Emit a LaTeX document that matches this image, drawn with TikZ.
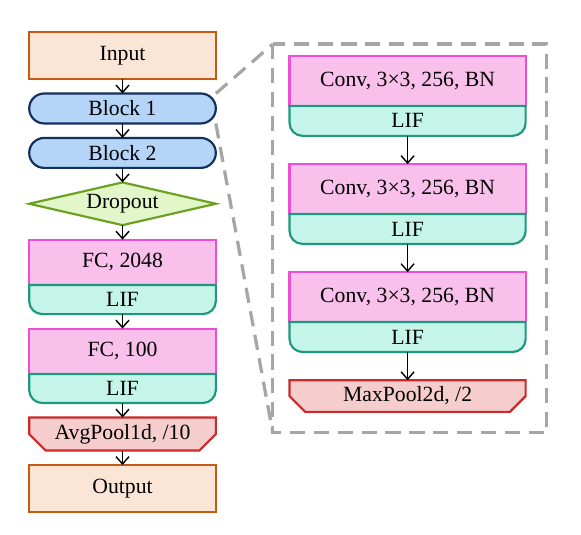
\documentclass[tikz,border=0pt]{standalone}
\usepackage{fontspec}
\setmainfont{Liberation Serif}
\usetikzlibrary{positioning,shapes.geometric,shapes.misc,arrows.meta,backgrounds}

\definecolor{ioface}{HTML}{FBE5D6}
\definecolor{ioedge}{HTML}{C55A11}
\definecolor{blkface}{HTML}{B4D5F7}
\definecolor{blkedge}{HTML}{12305E}
\definecolor{dropface}{HTML}{E2F6C9}
\definecolor{dropedge}{HTML}{6AA121}
\definecolor{fcface}{HTML}{F8C0EA}
\definecolor{fcedge}{HTML}{EE4FD2}
\definecolor{lifface}{HTML}{C4F5E8}
\definecolor{lifedge}{HTML}{1E9980}
\definecolor{poolface}{HTML}{F5CDCD}
\definecolor{pooledge}{HTML}{CC2A2A}
\definecolor{zoomgray}{HTML}{A6A6A6}

% LIF part under a layer node: #1 layer, #2 name, #3 width, #4 height
\newcommand{\lifpart}[4]{%
  \draw[lifline] (#1.south west) -- ++(0,-#4+6pt)
    arc[start angle=180,end angle=270,radius=6pt] -- ++(#3-12pt,0)
    arc[start angle=270,end angle=360,radius=6pt] -- (#1.south east) -- cycle;
  \node[liftext, minimum width=#3, minimum height=#4, below=0pt of #1] (#2) {LIF};}

\begin{document}
\begin{tikzpicture}[>={Straight Barb[length=3.4pt,width=6pt]}, node distance=6.68pt,
    box/.style={inner sep=0pt, outer sep=0pt, line width=1pt},
    io/.style={box, draw=ioedge, fill=ioface, minimum width=86pt, minimum height=21.8pt},
    block/.style={box, draw=blkedge, fill=blkface, rounded corners=6.9pt, minimum width=86pt, minimum height=13.8pt},
    drop/.style={box, diamond, aspect=4.3, draw=dropedge, fill=dropface, minimum width=86pt, minimum height=19.7pt},
    fc/.style={box, draw=fcedge, fill=fcface, minimum width=86pt, minimum height=20.9pt},
    conv/.style={fc, minimum width=108.8pt, minimum height=23pt},
    lifline/.style={draw=lifedge, fill=lifface, line width=1pt},
    liftext/.style={inner sep=0pt, outer sep=0pt},
    pool/.style={box, chamfered rectangle, chamfered rectangle corners={south west,south east},
      chamfered rectangle xsep=6.5pt, draw=pooledge, fill=poolface, minimum width=86pt, minimum height=13.6pt},
    flow/.style={->, line width=0.65pt},
    zoomline/.style={draw=zoomgray, line width=1.5pt, dash pattern=on 7pt off 4pt}]

  \useasboundingbox (0,0) rectangle (267.7pt,-246.1pt);

  % network
  \node[io, anchor=north] (input) at (56.45pt,-14.6pt) {Input};
  \node[block] (blk1) [below=of input] {Block 1};
  \node[block] (blk2) [below=of blk1] {Block 2};
  \node[drop] (drop) [below=of blk2] {Dropout};
  \node[fc] (fc1) [below=of drop] {FC, 2048};
  \lifpart{fc1}{lif1}{86pt}{13.4pt}
  \node[fc] (fc2) [below=of lif1] {FC, 100};
  \lifpart{fc2}{lif2}{86pt}{13.4pt}
  \node[pool] (avg) [below=of lif2] {AvgPool1d, /10};
  \node[io] (output) [below=of avg] {Output};

  % block
  \node[conv, anchor=north] (conv1) at (187.8pt,-25.8pt) {Conv, 3×3, 256, BN};
  \lifpart{conv1}{lifa}{108.8pt}{13.8pt}
  \node[conv] (conv2) [below=13pt of lifa] {Conv, 3×3, 256, BN};
  \lifpart{conv2}{lifb}{108.8pt}{13.8pt}
  \node[conv] (conv3) [below=13pt of lifb] {Conv, 3×3, 256, BN};
  \lifpart{conv3}{lifc}{108.8pt}{13.8pt}
  \node[pool, minimum width=108.8pt, minimum height=13.8pt] (maxpool) [below=13pt of lifc] {MaxPool2d, /2};

  \draw[flow] (input.south) -- (blk1.north);
  \draw[flow] (blk1.south) -- (blk2.north);
  \draw[flow] (blk2.south) -- (drop.north);
  \draw[flow] (drop.south) -- (fc1.north);
  \draw[flow] (lif1.south) -- (fc2.north);
  \draw[flow] (lif2.south) -- (avg.north);
  \draw[flow] (avg.south) -- (output.north);
  \draw[flow] (lifa.south) -- (conv2.north);
  \draw[flow] (lifb.south) -- (conv3.north);
  \draw[flow] (lifc.south) -- (maxpool.north);

  % zoom frame
  \coordinate (zoomnw) at (125.7pt,-20.3pt);
  \coordinate (zoomse) at (251.9pt,-199.4pt);
  \coordinate (zoomsw) at (zoomnw |- zoomse);
  \draw[zoomline] (zoomnw) rectangle (zoomse);
  \begin{scope}[on background layer]
    \draw[zoomline] (blk1.north east) -- (zoomnw);
    \draw[zoomline] (blk1.south east) -- (zoomsw);
  \end{scope}
\end{tikzpicture}
\end{document}
